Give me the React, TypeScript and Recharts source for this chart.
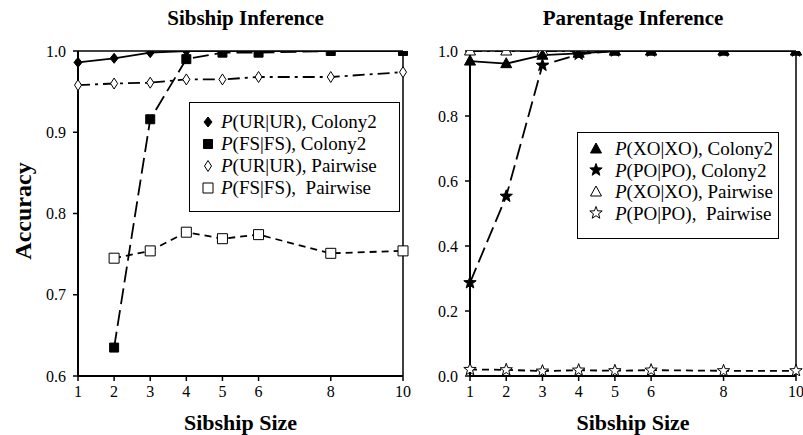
import React from 'react'
import { LineChart, Line, XAxis, YAxis, ReferenceLine, Label } from 'recharts'

const sizes = [1, 2, 3, 4, 5, 6, 8, 10]

// Sibship inference
const urColony2 = [0.986, 0.991, 0.998, 1.0, 1.0, 1.0, 1.0, 1.0]
const fsColony2 = [null, 0.635, 0.916, 0.99, 0.998, 0.998, 1.0, 1.0]
const urPairwise = [0.958, 0.96, 0.961, 0.965, 0.965, 0.968, 0.968, 0.974]
const fsPairwise = [null, 0.745, 0.754, 0.777, 0.769, 0.774, 0.751, 0.754]

// Parentage inference
const xoColony2 = [0.969, 0.961, 0.987, 0.993, 1.0, 1.0, 1.0, 1.0]
const poColony2 = [0.287, 0.553, 0.956, 0.99, 1.0, 1.0, 1.0, 1.0]
const xoPairwise = [1.0, 1.0, 1.0, 1.0, 1.0, 1.0, 1.0, 1.0]
const poPairwise = [0.02, 0.019, 0.015, 0.018, 0.016, 0.018, 0.016, 0.016]

const sibTicks = [0.6, 0.7, 0.8, 0.9, 1.0]
const parTicks = [0, 0.2, 0.4, 0.6, 0.8, 1.0]

const FONT = '"Liberation Serif", "Times New Roman", serif'

type Shape = 'diamond' | 'square' | 'triangle' | 'star'

const toPoints = (vals: (number | null)[]) =>
  vals.map((v, i) => ({ x: sizes[i], y: v })).filter((p) => p.y != null)

function markerPath(shape: Shape, cx: number, cy: number, filled: boolean) {
  if (shape === 'diamond') {
    const w = filled ? 4 : 3.5
    const h = filled ? 5 : 5.5
    return `M${cx},${cy - h}L${cx + w},${cy}L${cx},${cy + h}L${cx - w},${cy}Z`
  }
  if (shape === 'square') {
    const s = filled ? 4.5 : 5
    return `M${cx - s},${cy - s}H${cx + s}V${cy + s}H${cx - s}Z`
  }
  if (shape === 'triangle') {
    return `M${cx},${cy - 6}L${cx + 5.5},${cy + 4}L${cx - 5.5},${cy + 4}Z`
  }
  const pts: string[] = []
  for (let i = 0; i < 10; i++) {
    const r = i % 2 === 0 ? 6.5 : 2.7
    const a = -Math.PI / 2 + (i * Math.PI) / 5
    pts.push(`${cx + r * Math.cos(a)},${cy + r * Math.sin(a)}`)
  }
  return `M${pts.join('L')}Z`
}

function Marker({ shape, filled, cx, cy }: { shape: Shape; filled: boolean; cx: number; cy: number }) {
  return (
    <path
      d={markerPath(shape, cx, cy, filled)}
      fill={filled ? '#000' : '#fff'}
      stroke="#000"
      strokeWidth={1}
    />
  )
}

const dotFor = (shape: Shape, filled: boolean) => (props: any) => {
  const { cx, cy, index } = props
  if (cx == null || cy == null) return <g key={`${shape}-${filled}-${index}`} />
  return <Marker key={`${shape}-${filled}-${index}`} shape={shape} filled={filled} cx={cx} cy={cy} />
}

interface Series {
  name: string
  label: string
  values: (number | null)[]
  shape: Shape
  filled: boolean
  dash?: string
}

const sibSeries: Series[] = [
  { name: 'P', label: '(UR|UR), Colony2', values: urColony2, shape: 'diamond', filled: true },
  { name: 'P', label: '(FS|FS), Colony2', values: fsColony2, shape: 'square', filled: true, dash: '16 6' },
  { name: 'P', label: '(UR|UR), Pairwise', values: urPairwise, shape: 'diamond', filled: false, dash: '12 5 3 5' },
  { name: 'P', label: '(FS|FS),  Pairwise', values: fsPairwise, shape: 'square', filled: false, dash: '7 5' },
]

const parSeries: Series[] = [
  { name: 'P', label: '(XO|XO), Colony2', values: xoColony2, shape: 'triangle', filled: true },
  { name: 'P', label: '(PO|PO), Colony2', values: poColony2, shape: 'star', filled: true, dash: '16 6' },
  { name: 'P', label: '(XO|XO), Pairwise', values: xoPairwise, shape: 'triangle', filled: false, dash: '12 5 3 5' },
  { name: 'P', label: '(PO|PO),  Pairwise', values: poPairwise, shape: 'star', filled: false, dash: '7 5' },
]

const tickStyle = { fill: '#000', fontSize: 16, fontFamily: FONT }

function Panel({
  left, width, marginLeft, marginRight, series, domain, ticks, title, titleShift, showYLabel,
}: {
  left: number; width: number; marginLeft: number; marginRight: number; series: Series[]
  domain: [number, number]; ticks: number[]; title: string; titleShift: number; showYLabel: boolean
}) {
  const plotLeft = left + marginLeft + 60
  const plotRight = left + width - marginRight
  const drawOrder = [series[2], series[3], series[0], series[1]]
  return (
    <>
      <div
        style={{
          position: 'absolute', left: plotLeft + titleShift, width: plotRight - plotLeft, top: 7,
          textAlign: 'center', fontFamily: FONT, fontWeight: 'bold', fontSize: 21, lineHeight: '22px',
        }}
      >
        {title}
      </div>
      <div style={{ position: 'absolute', left, top: 0 }}>
        <LineChart width={width} height={435} margin={{ top: 51, right: marginRight, bottom: 29, left: marginLeft }}>
          <XAxis
            type="number" dataKey="x" domain={[1, 10]} ticks={sizes} interval={0}
            tick={tickStyle} tickSize={5} tickMargin={5} height={30}
            axisLine={{ stroke: '#000', strokeWidth: 2 }} tickLine={{ stroke: '#000', strokeWidth: 1.5 }}
          >
            <Label
              content={({ viewBox }: any) => (
                <text
                  x={viewBox.x + viewBox.width / 2} y={430} textAnchor="middle"
                  fontFamily={FONT} fontWeight="bold" fontSize={22} fill="#000"
                >
                  Sibship Size
                </text>
              )}
            />
          </XAxis>
          <YAxis
            type="number" domain={domain} ticks={ticks} interval={0} allowDataOverflow
            tickFormatter={(v: number) => v.toFixed(1)} tick={tickStyle} tickSize={5} tickMargin={7} width={60}
            axisLine={{ stroke: '#000', strokeWidth: 2 }} tickLine={{ stroke: '#000', strokeWidth: 1.5 }}
          >
            {showYLabel && (
              <Label
                content={() => (
                  <text
                    transform="translate(31, 211) rotate(-90)" textAnchor="middle"
                    fontFamily={FONT} fontWeight="bold" fontSize={24} fill="#000"
                  >
                    Accuracy
                  </text>
                )}
              />
            )}
          </YAxis>
          <ReferenceLine y={domain[1]} stroke="#000" strokeWidth={1.5} />
          <ReferenceLine x={10} stroke="#000" strokeWidth={1.5} />
          {drawOrder.map((s) => (
            <Line
              key={s.label}
              data={toPoints(s.values)}
              dataKey="y"
              type="linear"
              stroke="#000"
              strokeWidth={1.8}
              strokeDasharray={s.dash}
              dot={dotFor(s.shape, s.filled)}
              activeDot={false}
              isAnimationActive={false}
              legendType="none"
            />
          ))}
        </LineChart>
      </div>
    </>
  )
}

function LegendBox({
  left, top, width, height, series, symbolCol, padTop, lineH,
}: {
  left: number; top: number; width: number; height: number; series: Series[]
  symbolCol: number; padTop: number; lineH: number
}) {
  return (
    <div
      style={{
        position: 'absolute', left, top, width, height, boxSizing: 'border-box',
        border: '1.5px solid #000', background: '#fff', paddingTop: padTop, paddingLeft: 11,
        fontFamily: FONT, fontSize: 19, lineHeight: `${lineH}px`, color: '#000',
      }}
    >
      {series.map((s) => (
        <div key={s.label} style={{ display: 'flex', alignItems: 'center', whiteSpace: 'pre' }}>
          <svg width={symbolCol} height={16} style={{ flex: 'none' }}>
            <Marker shape={s.shape} filled={s.filled} cx={7} cy={8} />
          </svg>
          <span>
            <i>{s.name}</i>
            {s.label}
          </span>
        </div>
      ))}
    </div>
  )
}

export default function App() {
  return (
    <div style={{ position: 'absolute', left: 0, top: 0, width: 803, height: 435, background: '#fff', overflow: 'hidden' }}>
      <Panel
        left={0} width={420} marginLeft={18} marginRight={17} series={sibSeries}
        domain={[0.6, 1.0]} ticks={sibTicks} title="Sibship Inference" titleShift={5} showYLabel
      />
      <Panel
        left={400} width={403} marginLeft={10} marginRight={7} series={parSeries}
        domain={[0, 1.0]} ticks={parTicks} title="Parentage Inference" titleShift={0} showYLabel={false}
      />
      <LegendBox left={189} top={102} width={211} height={110} series={sibSeries} symbolCol={20} padTop={8} lineH={22} />
      <LegendBox left={577} top={132} width={202} height={107} series={parSeries} symbolCol={26} padTop={5} lineH={21.5} />
    </div>
  )
}
